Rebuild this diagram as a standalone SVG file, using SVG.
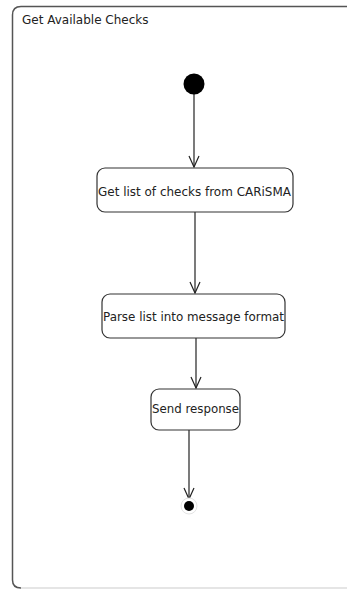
<svg xmlns="http://www.w3.org/2000/svg" width="347" height="590" viewBox="0 0 347 590">
  <style>
    .frame { fill: none; stroke: #555555; stroke-width: 1.5; }
    .action rect { fill: #ffffff; stroke: #333333; stroke-width: 1.2; }
    .label { font-family: "DejaVu Sans", "Liberation Sans", sans-serif; font-size: 12.5px; fill: #222222; }
    .title { font-family: "DejaVu Sans", "Liberation Sans", sans-serif; font-size: 12px; fill: #222222; }
    .flow { fill: none; stroke: #222222; stroke-width: 1.2; }
    .head { fill: none; stroke: #222222; stroke-width: 1.2; }
  </style>
  <rect width="347" height="590" fill="#ffffff"/>

  <!-- activity frame -->
  <g id="frame">
    <path class="frame" d="M352 6.5 H21 Q12.5 6.5 12.5 15 V580 Q12.5 588 21 588"/>
    <path d="M21 588 H352" stroke="#dddddd" stroke-width="1.5" fill="none"/>
    <text class="title" x="22" y="24">Get Available Checks</text>
  </g>

  <!-- control flows -->
  <g id="connectors">
    <path class="flow" d="M194 94 V167"/>
    <path class="head" d="M189 156 L194 167 L199 156"/>
    <path class="flow" d="M195 212 V293"/>
    <path class="head" d="M190 282 L195 293 L200 282"/>
    <path class="flow" d="M196 338 V388"/>
    <path class="head" d="M191 377 L196 388 L201 377"/>
    <path class="flow" d="M189 430 V499"/>
    <path class="head" d="M184 488 L189 499 L194 488"/>
  </g>

  <g id="initial">
    <circle cx="194" cy="84" r="10.5" fill="#000000"/>
  </g>

  <g id="get-checks" class="action">
    <rect x="97" y="168" width="196" height="44" rx="8"/>
    <text class="label" x="98" y="196" textLength="193" lengthAdjust="spacingAndGlyphs">Get list of checks from CARiSMA</text>
  </g>

  <g id="parse-list" class="action">
    <rect x="102" y="294" width="183" height="44" rx="8"/>
    <text class="label" x="103" y="321" textLength="181" lengthAdjust="spacingAndGlyphs">Parse list into message format</text>
  </g>

  <g id="send-response" class="action">
    <rect x="151" y="389" width="89" height="41" rx="8"/>
    <text class="label" x="152" y="413" textLength="87" lengthAdjust="spacingAndGlyphs">Send response</text>
  </g>

  <g id="final">
    <circle cx="189" cy="506" r="8" fill="#ffffff" stroke="#e4e4e4" stroke-width="1"/>
    <circle cx="189" cy="506" r="5" fill="#000000"/>
  </g>
</svg>
